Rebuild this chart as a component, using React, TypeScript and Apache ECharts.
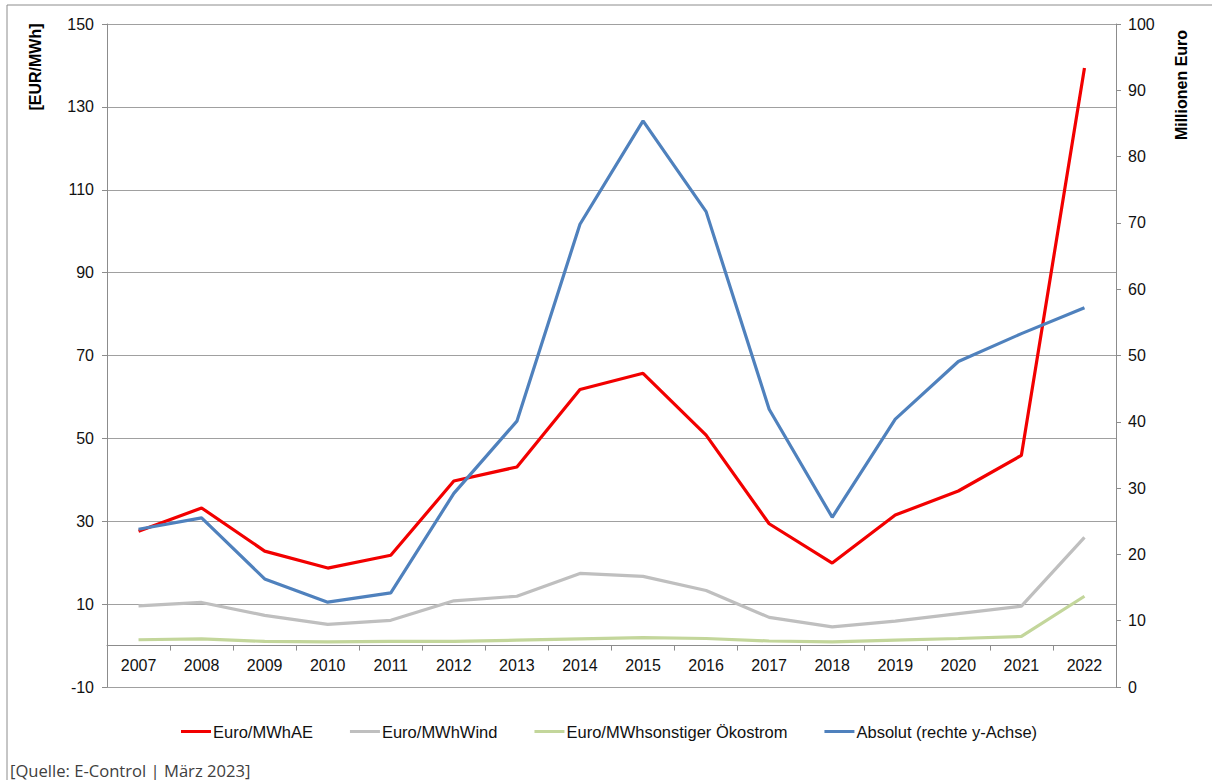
import React, { useEffect, useRef } from "react";
import * as echarts from "echarts";

const years = ["2007", "2008", "2009", "2010", "2011", "2012", "2013", "2014", "2015", "2016", "2017", "2018", "2019", "2020", "2021", "2022"];
const euroMWhAE = [27.6, 33.2, 22.8, 18.7, 21.8, 39.7, 43.1, 61.8, 65.7, 50.8, 29.4, 19.9, 31.5, 37.3, 45.9, 139.4];
const euroMWhWind = [9.6, 10.4, 7.3, 5.1, 6.1, 10.8, 11.9, 17.4, 16.7, 13.3, 6.8, 4.5, 5.9, 7.7, 9.5, 26.1];
const euroMWhSonstige = [1.4, 1.6, 1.0, 0.9, 1.0, 1.0, 1.3, 1.6, 1.9, 1.7, 1.1, 0.9, 1.3, 1.7, 2.2, 11.9];
const absolutMioEuro = [23.8, 25.5, 16.3, 12.8, 14.2, 29.2, 40.1, 69.8, 85.4, 71.7, 41.9, 25.6, 40.4, 49.1, 53.3, 57.2];

const seriesNames = ["Euro/MWhAE", "Euro/MWhWind", "Euro/MWhsonstiger Ökostrom", "Absolut (rechte y-Achse)"];
const seriesColors = ["#f20000", "#bfbfbf", "#c3d69b", "#4f81bd"];

const FONT = "'Liberation Sans', Arial, sans-serif";

export default function App() {
  const ref = useRef<HTMLDivElement>(null);
  useEffect(() => {
    if (!ref.current) return;
    const chart = echarts.init(ref.current, undefined, { renderer: "svg" });
    const axisGray = "#8c8c8c";
    const mk = (i: number, data: number[], yAxisIndex: number) => ({
      name: seriesNames[i],
      type: "line",
      data,
      yAxisIndex,
      symbol: "none",
      lineStyle: { color: seriesColors[i], width: 3.2 },
      itemStyle: { color: seriesColors[i] },
    });
    chart.setOption({
      animation: false,
      backgroundColor: "#ffffff",
      textStyle: { fontFamily: FONT },
      grid: { left: 107, right: 96, top: 24, bottom: 93, containLabel: false },
      legend: {
        data: seriesNames,
        left: 176,
        top: 718,
        icon: "rect",
        itemWidth: 30,
        itemHeight: 3,
        itemGap: 37,
        textStyle: { fontFamily: FONT, fontSize: 16.5, color: "#111", padding: [0, 0, 0, -3] },
      },
      xAxis: {
        type: "category",
        data: years,
        boundaryGap: true,
        axisLine: { onZero: true, onZeroAxisIndex: 0, lineStyle: { color: axisGray, width: 1 } },
        axisTick: { show: true, length: 5, interval: 0, lineStyle: { color: axisGray } },
        axisLabel: { fontFamily: FONT, fontSize: 16, color: "#111", margin: -30, interval: 0 },
        splitLine: { show: false },
      },
      yAxis: [
        {
          type: "value",
          min: -10,
          max: 150,
          interval: 20,
          position: "left",
          axisLine: { show: true, lineStyle: { color: axisGray } },
          axisTick: { show: true, length: 5, lineStyle: { color: axisGray } },
          axisLabel: { fontFamily: FONT, fontSize: 16, color: "#111", margin: 13 },
          splitLine: { show: true, lineStyle: { color: "#a0a0a0", width: 1 } },
        },
        {
          type: "value",
          min: 0,
          max: 100,
          interval: 10,
          position: "right",
          axisLine: { show: true, lineStyle: { color: axisGray } },
          axisTick: { show: true, length: 5, lineStyle: { color: axisGray } },
          axisLabel: { fontFamily: FONT, fontSize: 16, color: "#111", margin: 12 },
          splitLine: { show: false },
        },
      ],
      graphic: [
        {
          type: "rect",
          shape: { x: 7, y: 5, width: 1400, height: 1000 },
          style: { fill: "none", stroke: "#8c8c8c", lineWidth: 1 },
          silent: true,
        },
        {
          type: "text",
          x: 35,
          y: 67,
          rotation: Math.PI / 2,
          style: { text: "[EUR/MWh]", font: `bold 16px ${FONT}`, fill: "#000", textAlign: "center", textVerticalAlign: "middle" },
        },
        {
          type: "text",
          x: 1181,
          y: 85,
          rotation: Math.PI / 2,
          style: { text: "Millionen Euro", font: `bold 16px ${FONT}`, fill: "#000", textAlign: "center", textVerticalAlign: "middle" },
        },
        {
          type: "text",
          x: 10,
          y: 770,
          style: { text: "[Quelle: E-Control | März 2023]", font: `16.6px 'Open Sans', sans-serif`, fill: "#404040", textVerticalAlign: "middle" },
        },
      ],
      series: [
        mk(0, euroMWhAE, 0),
        mk(1, euroMWhWind, 0),
        mk(2, euroMWhSonstige, 0),
        mk(3, absolutMioEuro, 1),
      ],
    });
    return () => chart.dispose();
  }, []);
  return <div ref={ref} style={{ position: "absolute", left: 0, top: 0, width: 1212, height: 780 }} />;
}
